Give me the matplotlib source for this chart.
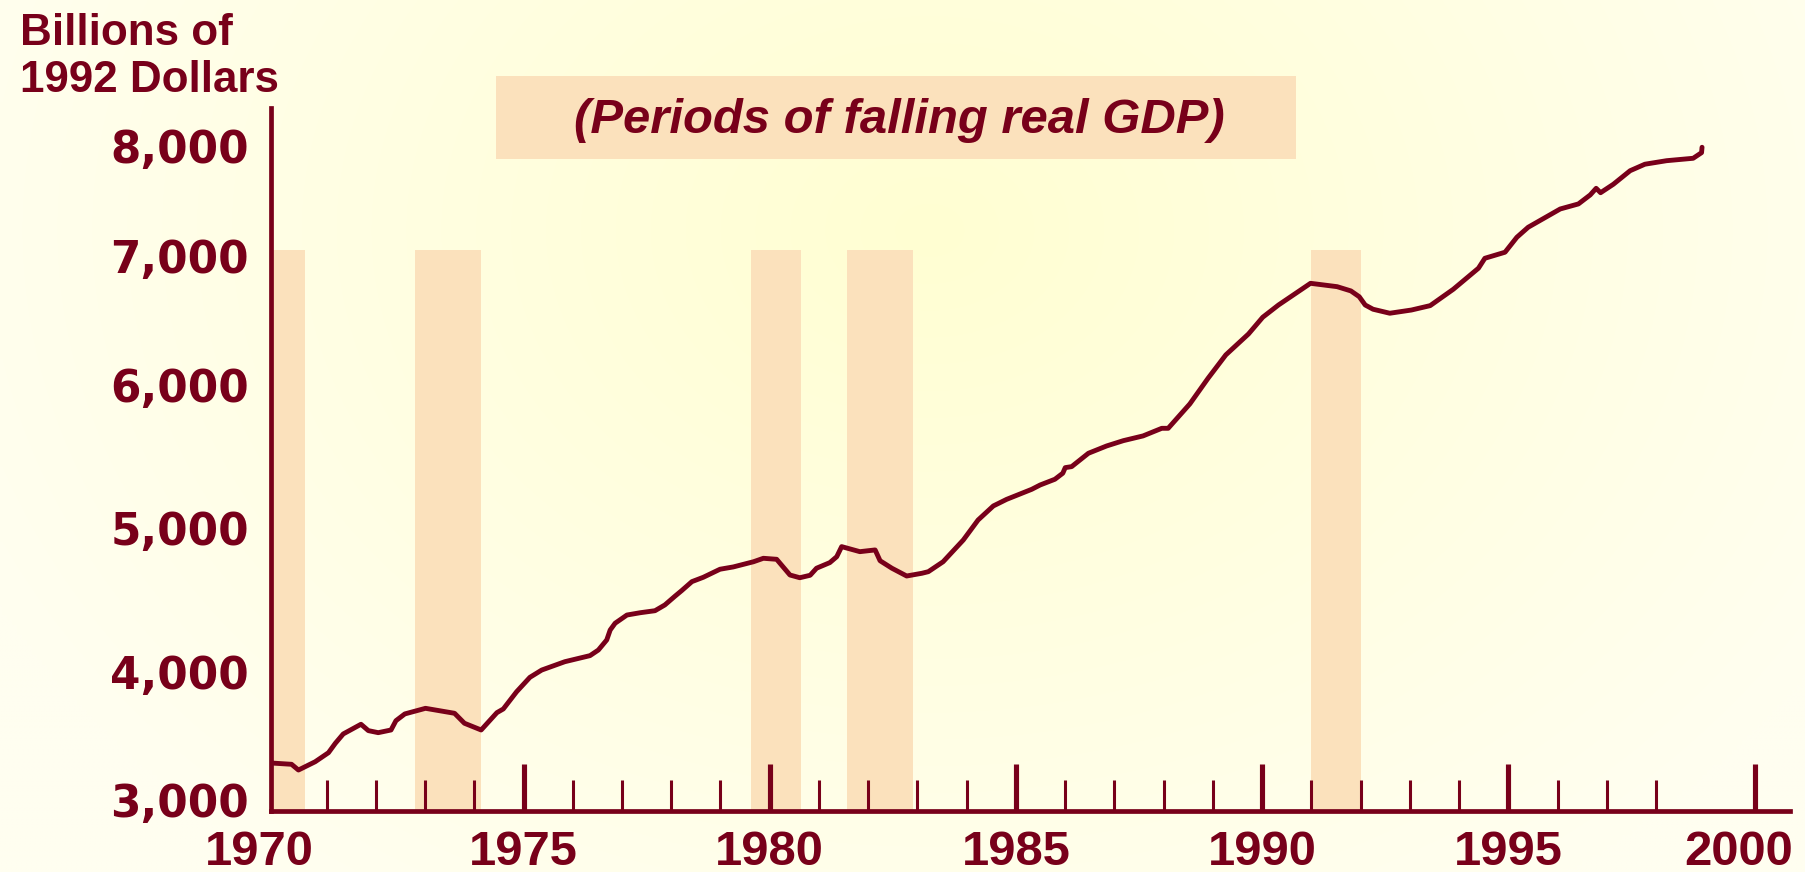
import numpy as np
import matplotlib
matplotlib.use("Agg")
import matplotlib.pyplot as plt
from matplotlib.patches import Rectangle
from matplotlib.transforms import ScaledTranslation

# ---------------- data ----------------
years = [1969.88, 1970.29, 1970.43, 1970.77, 1971.04, 1971.18, 1971.34, 1971.70, 1971.85,
         1972.05, 1972.31, 1972.41, 1972.59, 1973.01, 1973.60, 1973.80, 1974.14, 1974.46,
         1974.59, 1974.86, 1975.13, 1975.37, 1975.84, 1976.35, 1976.52, 1976.69, 1976.76,
         1976.86, 1977.10, 1977.37, 1977.67, 1977.87, 1978.08, 1978.21, 1978.42, 1978.65,
         1978.99, 1979.26, 1979.67, 1979.87, 1980.14, 1980.41, 1980.61, 1980.82, 1980.95,
         1981.22, 1981.36, 1981.46, 1981.83, 1982.14, 1982.24, 1982.48, 1982.78, 1983.09,
         1983.22, 1983.52, 1983.93, 1984.23, 1984.54, 1984.81, 1985.32, 1985.49, 1985.79,
         1985.95, 1986.00, 1986.13, 1986.47, 1986.84, 1987.18, 1987.58, 1987.96, 1988.09,
         1988.53, 1988.90, 1989.26, 1989.72, 1990.01, 1990.33, 1990.98, 1991.52, 1991.80,
         1991.97, 1992.09, 1992.25, 1992.59, 1993.03, 1993.41, 1993.88, 1994.39, 1994.52,
         1994.93, 1995.17, 1995.40, 1996.05, 1996.42, 1996.66, 1996.78, 1996.87, 1997.13,
         1997.47, 1997.77, 1998.21, 1998.75, 1998.92, 1998.93]
real_gdp = [3290, 3280, 3235, 3300, 3371, 3445, 3518, 3594, 3544,
            3528, 3549, 3622, 3675, 3719, 3680, 3602, 3549, 3685,
            3714, 3849, 3962, 4017, 4075, 4117, 4156, 4226, 4295,
            4342, 4399, 4415, 4429, 4469, 4531, 4568, 4631, 4661,
            4717, 4733, 4769, 4793, 4786, 4677, 4658, 4675, 4724,
            4763, 4804, 4874, 4839, 4851, 4776, 4724, 4670, 4689,
            4700, 4769, 4920, 5059, 5157, 5203, 5273, 5303, 5343,
            5385, 5424, 5431, 5524, 5575, 5612, 5645, 5698, 5698,
            5868, 6052, 6233, 6395, 6525, 6620, 6788, 6762, 6729,
            6684, 6620, 6587, 6556, 6581, 6615, 6742, 6905, 6982,
            7034, 7170, 7261, 7427, 7473, 7555, 7615, 7575, 7652,
            7775, 7834, 7866, 7888, 7939, 7988]

recession_start = [1969.87, 1972.80, 1979.62, 1981.57, 1990.99]
recession_end = [1970.56, 1974.14, 1980.64, 1982.91, 1992.01]
band_top_value = 7050

y_tick_values = [3000, 4000, 5000, 6000, 7000, 8000]
y_tick_labels = ["3,000", "4,000", "5,000", "6,000", "7,000", "8,000"]
x_major_years = [1970, 1975, 1980, 1985, 1990, 1995, 2000]
x_major_labels = ["1970", "1975", "1980", "1985", "1990", "1995", "2000"]
x_minor_years = [y for y in range(1971, 1999) if y % 5 != 0]

y_axis_title = "Billions of\n1992 Dollars"
legend_text = "(Periods of falling real GDP)"

# ---------------- style ----------------
MAROON = "#78001A"
PEACH = "#FBE1BC"
W, H, DPI = 1805, 872, 100

fig = plt.figure(figsize=(W / DPI, H / DPI), dpi=DPI)

# radial gradient background
bg = fig.add_axes([0, 0, 1, 1], zorder=-5)
gx, gy = np.meshgrid(np.linspace(0, W, 361), np.linspace(0, H, 175))
r = np.hypot(gx - 930, (gy - 230) * 1.3)
t = np.clip(r / 1050.0, 0, 1)[..., None]
inner = np.array([255, 255, 210]) / 255.0
outer = np.array([255, 254, 240]) / 255.0
img = inner + (outer - inner) * t
bg.imshow(img, extent=[0, 1, 0, 1], aspect="auto", interpolation="bilinear", origin="upper")
bg.axis("off")

# main axes
ax = fig.add_axes([271 / W, 61 / H, (1790 - 271) / W, (811 - 108) / H])
ax.set_facecolor("none")

# piecewise-linear axis calibration matching the reference's label spacing
cal_vals = [2000, 3000, 4000, 5000, 6000, 7000, 8000, 9000]
cal_pos = [0, 127.5, 255, 399, 542.5, 671.5, 781.5, 891.5]


def fwd(v):
    return np.interp(v, cal_vals, cal_pos)


def inv(p):
    return np.interp(p, cal_pos, cal_vals)


ax.set_yscale("function", functions=(fwd, inv))
ax.set_xlim(1969.873, 2000.716)
ax.set_ylim(2913.7, 8345)

# recession bands
ylow = ax.get_ylim()[0]
for s, e in zip(recession_start, recession_end):
    ax.bar(s, band_top_value - ylow, bottom=ylow, width=e - s, align="edge",
           color=PEACH, edgecolor="none", zorder=1)

# GDP line
ax.plot(years, real_gdp, color=MAROON, lw=3.5, solid_joinstyle="round",
        solid_capstyle="round", zorder=3)

# spines
for side in ["top", "right"]:
    ax.spines[side].set_visible(False)
for side in ["left", "bottom"]:
    ax.spines[side].set_color(MAROON)
    ax.spines[side].set_linewidth(3.4)
    ax.spines[side].set_zorder(4)

# y ticks
ax.set_yticks(y_tick_values)
ax.set_yticklabels(y_tick_labels)
ax.yaxis.set_minor_locator(matplotlib.ticker.NullLocator())
ax.tick_params(axis="y", length=0, pad=15.8, labelcolor=MAROON)
for lab in ax.get_yticklabels():
    lab.set_fontfamily("DejaVu Sans")
    lab.set_fontweight("bold")
    lab.set_fontsize(31.5)

# x ticks
ax.set_xticks(x_major_years)
ax.set_xticklabels(x_major_labels)
ax.set_xticks(x_minor_years, minor=True)
ax.tick_params(axis="x", which="major", direction="in", length=33.8, width=3.7,
               color=MAROON, pad=13.5, labelcolor=MAROON)
ax.tick_params(axis="x", which="minor", direction="in", length=22.3, width=2.2,
               color=MAROON)
for lab in ax.get_xticklabels():
    lab.set_fontfamily("Liberation Sans")
    lab.set_fontweight("bold")
    lab.set_fontsize(35.3)
major_ticks = ax.xaxis.get_major_ticks()
first = major_ticks[0]
first.tick1line.set_visible(False)
first.label1.set_transform(first.label1.get_transform()
                           + ScaledTranslation(-18 / DPI, 0, fig.dpi_scale_trans))
last = major_ticks[-1]
last.label1.set_transform(last.label1.get_transform()
                          + ScaledTranslation(-16 / DPI, 0, fig.dpi_scale_trans))

# y-axis title
fig.text(20 / W, 1 - 13 / H, y_axis_title, ha="left", va="top", color=MAROON,
         fontfamily="Liberation Sans", fontweight="bold", fontsize=31.7,
         linespacing=1.18)

# legend box
fig.add_artist(Rectangle((496 / W, 1 - 159 / H), 800 / W, 83 / H,
                         transform=fig.transFigure, facecolor=PEACH,
                         edgecolor="none"))
fig.text(899 / W, 1 - 120 / H, legend_text, ha="center", va="center",
         color=MAROON, fontfamily="Liberation Sans", fontstyle="italic",
         fontweight="bold", fontsize=35.3)

fig.savefig("out.png", dpi=DPI)
